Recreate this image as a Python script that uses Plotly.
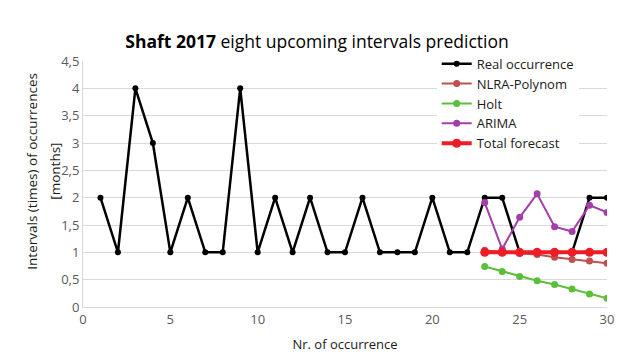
import plotly.graph_objects as go

x_real = list(range(1, 31))
real = [2, 1, 4, 3, 1, 2, 1, 1, 4, 1, 2, 1, 2, 1, 1, 2, 1, 1, 1, 2, 1, 1, 2, 2, 1, 1, 1, 1, 2, 2]
x_fc = list(range(23, 31))
nlra = [1.04, 1.0, 0.98, 0.96, 0.91, 0.87, 0.84, 0.80]
holt = [0.74, 0.65, 0.56, 0.48, 0.41, 0.33, 0.24, 0.16]
arima = [1.91, 1.06, 1.64, 2.07, 1.47, 1.38, 1.86, 1.73]
total = [1.0, 1.0, 1.0, 1.0, 1.0, 1.0, 1.0, 1.0]
y_title_lines = ["Intervals (times) of occurrences", "[months]"]

fig = go.Figure()
fig.add_trace(go.Scatter(x=x_real, y=real, name="Real occurrence", mode="lines+markers",
                         line=dict(color="black", width=2.5), marker=dict(size=6, color="black")))
fig.add_trace(go.Scatter(x=x_fc, y=nlra, name="NLRA-Polynom", mode="lines+markers",
                         line=dict(color="#c0504d", width=2), marker=dict(size=7, color="#c0504d")))
fig.add_trace(go.Scatter(x=x_fc, y=holt, name="Holt", mode="lines+markers",
                         line=dict(color="#5cbf3a", width=2), marker=dict(size=7, color="#5cbf3a")))
fig.add_trace(go.Scatter(x=x_fc, y=arima, name="ARIMA", mode="lines+markers",
                         line=dict(color="#a43ea8", width=2), marker=dict(size=7, color="#a43ea8")))
fig.add_trace(go.Scatter(x=x_fc, y=total, name="Total forecast", mode="lines+markers",
                         line=dict(color="#ee1c24", width=4), marker=dict(size=9, color="#ee1c24")))

fig.update_layout(
    width=618, height=353,
    margin=dict(l=75, r=19, t=53, b=54),
    paper_bgcolor="white", plot_bgcolor="white",
    separators=", ",
    font=dict(family="Open Sans, Liberation Sans, sans-serif", color="#262626", size=12),
    title=dict(text="<b>Shaft 2017</b> eight upcoming intervals prediction",
               x=0.5, xanchor="center", y=0.904, yanchor="middle",
               font=dict(size=17.5, color="black")),
    showlegend=True,
    legend=dict(x=0.675, y=1.05, xanchor="left", yanchor="top", bgcolor="white",
                font=dict(family="Open Sans, sans-serif", size=13, color="#1a1a1a"),
                tracegroupgap=0, itemwidth=30),
    annotations=[
        dict(text=y_title_lines[0], xref="paper", yref="paper", x=-0.0973, y=0.55,
             xanchor="center", yanchor="middle", textangle=-90, showarrow=False,
             font=dict(size=13.5, color="#1a1a1a")),
        dict(text=y_title_lines[1], xref="paper", yref="paper", x=-0.0534, y=0.55,
             xanchor="center", yanchor="middle", textangle=-90, showarrow=False,
             font=dict(size=13.5, color="#1a1a1a")),
    ],
)
fig.update_xaxes(range=[0, 30], dtick=5, tick0=0, showgrid=False, showline=True,
                 linecolor="#d9d9d9", linewidth=1, ticks="", zeroline=False,
                 tickfont=dict(size=13, color="#595959"),
                 title=dict(text="Nr. of occurrence", font=dict(size=13, color="#1a1a1a"), standoff=13))
fig.update_yaxes(range=[0, 4.5], dtick=0.5, tick0=0, showgrid=True, gridcolor="#d9d9d9",
                 showline=True, linecolor="#d9d9d9", linewidth=1, ticks="", zeroline=False,
                 tickfont=dict(size=13, color="#595959"))

fig.write_html("out.html")
